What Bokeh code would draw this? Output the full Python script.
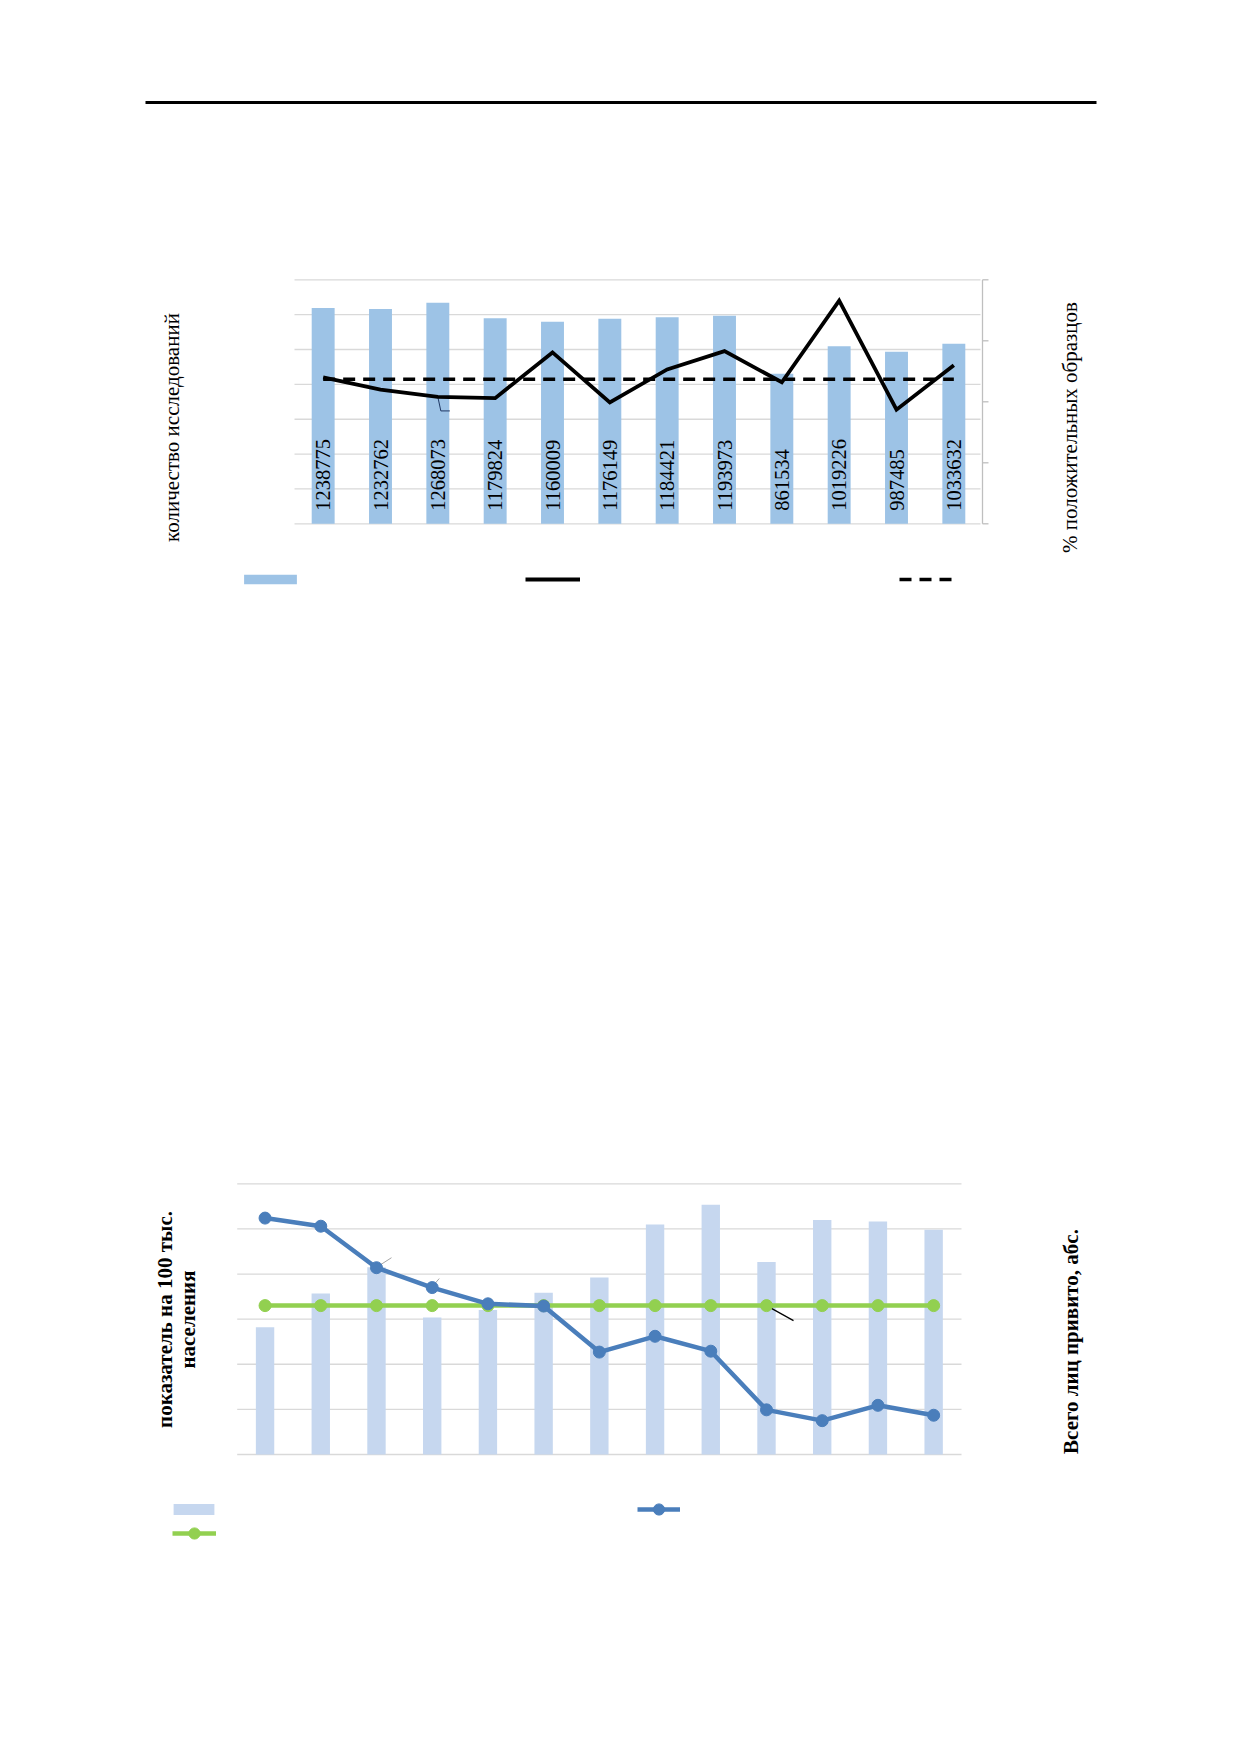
import math
from bokeh.plotting import figure
from bokeh.models import ColumnDataSource, Range1d, Label, Legend, LegendItem
from bokeh.core.properties import value
from bokeh.embed import file_html
from bokeh.resources import INLINE

# ---------------- data: chart 1 (number of tests / % positive) ----------------
c1_categories = [str(i) for i in range(1, 13)]
c1_tests = [1238775, 1232762, 1268073, 1179824, 1160009, 1176149,
            1184421, 1193973, 861534, 1019226, 987485, 1033632]
c1_positive = [2.40, 2.20, 2.08, 2.06, 2.81, 1.99, 2.53, 2.83, 2.32, 3.66, 1.87, 2.60]
c1_mean = [2.37] * 12
c1_left_ticks = [0, 200000, 400000, 600000, 800000, 1000000, 1200000, 1400000]
c1_right_ticks = [0, 1, 2, 3, 4]

# ---------------- data: chart 2 (vaccinated / rate per 100k) ----------------
c2_categories = [str(i) for i in range(1, 14)]
c2_vaccinated = [56400, 71400, 83000, 60700, 64100, 71700, 78500,
                 102000, 110700, 85300, 104000, 103300, 99600]
c2_rate = [52.4, 50.6, 41.4, 37.0, 33.4, 32.9, 22.7, 26.2, 22.9, 9.9, 7.5, 10.9, 8.7]
c2_level = [33.0] * 13
c2_left_ticks = [0, 10, 20, 30, 40, 50, 60]

FONT = "Liberation Serif"
W, H, M = 1220, 1700, 0   # canvas size and offset of the canvas in the picture


def xr(v0, v1, p0, p1):
    """x range so that value v0 sits at picture x p0 and v1 at picture x p1"""
    s = (v1 - v0) / (p1 - p0)
    start = v0 - (p0 - M) * s
    return Range1d(start, start + W * s)


def yr(v0, v1, p0, p1):
    """y range so that value v0 sits at picture y p0 (lower) and v1 at picture y p1 (upper)"""
    s = (v1 - v0) / (p0 - p1)
    start = v0 - ((M + H) - p0) * s
    return Range1d(start, start + H * s)


# picture-coordinate frame: x = picture x, y = -picture y
p = figure(x_range=Range1d(M, M + W), y_range=Range1d(-(M + H), -M),
           frame_width=W, frame_height=H, min_border=0, min_border_left=0, min_border_right=0,
           min_border_top=0, min_border_bottom=0, x_axis_location=None, y_axis_location=None,
           toolbar_location=None, output_backend="svg")
p.outline_line_color = None
p.grid.visible = False
p.background_fill_color = "white"

# ---------- layout of chart 1 ----------
C1_L, C1_R, C1_T, C1_B = 294, 982, 279.3, 523.3
n1 = len(c1_categories)
p.extra_x_ranges["c1x"] = xr(-0.5, n1 - 0.5, C1_L, C1_R)
p.extra_y_ranges["c1y"] = yr(0, c1_left_ticks[-1], C1_B, C1_T)
p.extra_y_ranges["c1p"] = yr(0, c1_right_ticks[-1], C1_B, C1_T)
ppx1 = (C1_R - C1_L) / n1
ppy1p = (C1_B - C1_T) / c1_right_ticks[-1]

# ---------- layout of chart 2 ----------
C2_L, C2_R, C2_T, C2_B = 236.7, 961, 1183.3, 1454
n2 = len(c2_categories)
p.extra_x_ranges["c2x"] = xr(-0.5, n2 - 0.5, C2_L, C2_R)
p.extra_y_ranges["c2y"] = yr(0, c2_left_ticks[-1], C2_B, C2_T)
p.extra_y_ranges["c2a"] = yr(0, 120000, C2_B, C2_T)
ppx2 = (C2_R - C2_L) / n2
ppy2 = (C2_B - C2_T) / c2_left_ticks[-1]

# ---------- top rule ----------
p.segment(x0=[145], y0=[-102], x1=[1096], y1=[-102], line_color="black", line_width=3)

# ================= chart 1 =================
src1 = ColumnDataSource(dict(xi=list(range(n1)), cat=c1_categories, tests=c1_tests,
                             pos=c1_positive, mean=c1_mean, lbl=[str(v) for v in c1_tests]))
p.segment(x0=[-0.5] * len(c1_left_ticks), x1=[n1 - 0.5 - 2 / ppx1] * len(c1_left_ticks),
          y0=c1_left_ticks, y1=c1_left_ticks, x_range_name="c1x", y_range_name="c1y",
          line_color="#d9d9d9", line_width=1.3)
# right axis line and outward ticks
p.segment(x0=[n1 - 0.5], x1=[n1 - 0.5], y0=[c1_right_ticks[0]], y1=[c1_right_ticks[-1]],
          x_range_name="c1x", y_range_name="c1p", line_color="#bfbfbf", line_width=1.3)
p.segment(x0=[n1 - 0.5] * len(c1_right_ticks), x1=[n1 - 0.5 + 6 / ppx1] * len(c1_right_ticks),
          y0=c1_right_ticks, y1=c1_right_ticks, x_range_name="c1x", y_range_name="c1p",
          line_color="#bfbfbf", line_width=1.3)

bars1 = p.vbar(x="xi", top="tests", width=0.4, source=src1, x_range_name="c1x", y_range_name="c1y",
               fill_color="#9dc3e6", line_color=None)
p.text(x="xi", y=0, text="lbl", source=src1, x_range_name="c1x", y_range_name="c1y",
       angle=math.pi / 2, text_align="left", text_baseline="middle", y_offset=-13,
       text_font=value(FONT), text_font_size="20.5px", text_color="black")
# small leader line of a hidden data label (3rd point)
k = 2
p.line(x=[k, k + 3 / ppx1, k + 12 / ppx1],
       y=[c1_positive[k], c1_positive[k] - 14 / ppy1p, c1_positive[k] - 14 / ppy1p],
       x_range_name="c1x", y_range_name="c1p", line_color="#1f3864", line_width=1)
mean1 = p.line(x="xi", y="mean", source=src1, x_range_name="c1x", y_range_name="c1p",
               line_color="black", line_width=3.3, line_dash="12 8")
pos1 = p.line(x="xi", y="pos", source=src1, x_range_name="c1x", y_range_name="c1p",
              line_color="black", line_width=3.8, line_join="miter")


def vlabel(text, x, y, bold=False):
    p.add_layout(Label(x=x, y=-y, text=text, angle=math.pi / 2, text_align="center",
                       text_baseline="middle", text_font=FONT, text_font_size="21px",
                       text_font_style="bold" if bold else "normal", text_color="black"))


vlabel("количество исследований", 171, 427)
vlabel("% положительных образцов", 1069, 427)


def legend_at(renderers, left, bottom, gw, gh):
    p.add_layout(Legend(items=[LegendItem(label=value(""), renderers=renderers)],
                        location=(left - M, (M + H) - bottom), orientation="vertical",
                        padding=0, margin=0, spacing=0, border_line_color=None,
                        background_fill_alpha=0, glyph_width=gw, glyph_height=gh,
                        label_standoff=0, label_width=0, label_height=gh,
                        label_text_font_size="1px"))


legend_at([bars1], 236.7, 584.5, 66, 12)
legend_at([pos1], 525, 584, 55, 10)
legend_at([mean1], 899, 584, 56, 10)

# ================= chart 2 =================
src2 = ColumnDataSource(dict(xi=list(range(n2)), cat=c2_categories, vac=c2_vaccinated,
                             rate=c2_rate, lvl=c2_level))
p.segment(x0=[-0.5] * len(c2_left_ticks), x1=[n2 - 0.5] * len(c2_left_ticks),
          y0=c2_left_ticks, y1=c2_left_ticks, x_range_name="c2x", y_range_name="c2y",
          line_color="#d9d9d9", line_width=1.3)
bars2 = p.vbar(x="xi", top="vac", width=0.33, source=src2, x_range_name="c2x", y_range_name="c2a",
               fill_color="#c6d7ef", line_color=None)
# small leader lines of hidden data labels
for k, dx0, dy0, dx1, dy1 in [(2, 2.5, 2, 15, 10), (3, 1, 2, 7, 9)]:
    p.segment(x0=[k + dx0 / ppx2], y0=[c2_rate[k] + dy0 / ppy2],
              x1=[k + dx1 / ppx2], y1=[c2_rate[k] + dy1 / ppy2],
              x_range_name="c2x", y_range_name="c2y", line_color="#a6a6a6", line_width=1)
k = 9
p.segment(x0=[k], y0=[c2_level[k]], x1=[k + 27 / ppx2], y1=[c2_level[k] - 15 / ppy2],
          x_range_name="c2x", y_range_name="c2y", line_color="black", line_width=1.2)
lvl_l = p.line(x="xi", y="lvl", source=src2, x_range_name="c2x", y_range_name="c2y",
               line_color="#92d050", line_width=4.5)
lvl_s = p.scatter(x="xi", y="lvl", source=src2, x_range_name="c2x", y_range_name="c2y",
                  size=12, fill_color="#92d050", line_color="#92d050")
rate_l = p.line(x="xi", y="rate", source=src2, x_range_name="c2x", y_range_name="c2y",
                line_color="#4a7ebb", line_width=4.5)
rate_s = p.scatter(x="xi", y="rate", source=src2, x_range_name="c2x", y_range_name="c2y",
                   size=12, fill_color="#4a7ebb", line_color="#4a7ebb")

vlabel("показатель на 100 тыс.", 164, 1319, bold=True)
vlabel("населения", 187.5, 1319, bold=True)
vlabel("Всего лиц привито, абс.", 1070, 1341, bold=True)

legend_at([bars2], 168.2, 1516.4, 51, 14)
legend_at([lvl_l, lvl_s], 172, 1547.3, 44, 28)
legend_at([rate_l, rate_s], 636.7, 1523.3, 43, 28)

open("out.html", "w").write(file_html(p, INLINE))
